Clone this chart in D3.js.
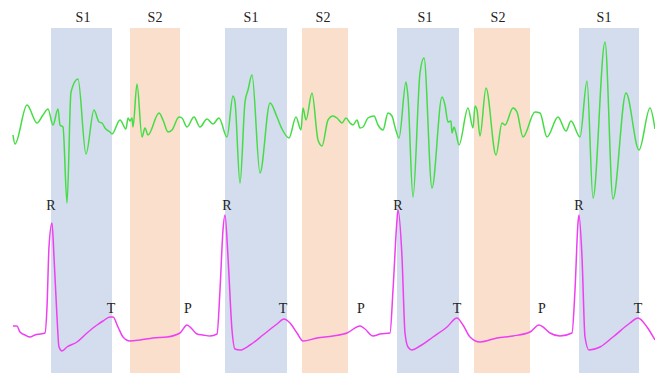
<!DOCTYPE html>
<html>
<head>
<meta charset="utf-8">
<script src="https://cdn.jsdelivr.net/npm/d3@7"></script>
<style>
  html, body { margin: 0; padding: 0; background: #fff; }
  svg { display: block; }
</style>
</head>
<body>
<div id="chart"></div>
<script>
// time axis is in display samples (0..655), amplitudes are relative to each trace's baseline

const pcgTime = [13, 15, 27, 37, 43, 48, 53, 58, 60, 63, 67, 71, 78, 86, 94, 99, 102, 105, 110, 112,
  120, 126, 128, 130, 132, 133, 137, 142, 145, 148, 159, 163, 168, 172, 179, 182, 187, 194, 200, 207,
  213, 219, 227, 233, 235, 240, 245, 248, 252, 260, 270, 277, 282, 289, 296, 301, 303, 306, 312, 318,
  322, 328, 333, 337, 342, 346, 350, 353, 357, 360, 363, 368, 374, 378, 383, 388, 392, 395, 399, 406,
  408, 413, 420, 424, 432, 442, 445, 448, 451, 452, 454, 456, 459, 468, 473, 475, 477, 480, 486, 496,
  502, 505, 513, 517, 523, 535, 540, 547, 558, 566, 571, 580, 587, 593, 605, 613, 626, 639, 650, 655];

const pcgValue = [-10, -19, 20, 2, 10, 16, 0, 16, 0, -2, -78, 33, 46, -29, 15, 3, 2, -3, -7, -9,
  5, -4, 7, 4, 7, -2, 41, -12, -3, -10, 12, 5, -7, -5, 8, 7, -2, 8, -2, 6,
  1, 7, -12, 29, 23, -58, 23, 35, 50, -48, 22, 8, -4, -13, 8, -5, 17, 5, 32, -15,
  -21, 5, 9, 7, 2, 7, 2, 0, 5, -3, -2, 7, 9, 0, -5, 12, 9, -2, -13, 43,
  28, -72, 52, 67, -63, 28, 20, 3, 4, -8, -2, -8, -20, 17, -3, 19, 15, -11, 37, -30,
  2, 0, 17, 13, -12, 13, 12, -12, 8, -6, 4, -12, 44, -73, 83, -74, 32, -25, 17, -4];

const ecgTime = [13, 17, 20, 25, 30, 35, 40, 45, 47, 49, 52, 54, 57, 59, 62, 67, 77, 87, 97, 103,
  110, 113, 118, 123, 130, 140, 153, 167, 180, 187, 192, 197, 203, 210, 217, 220, 223, 225, 228, 232,
  235, 240, 250, 263, 277, 284, 290, 297, 303, 317, 333, 347, 360, 365, 373, 380, 390, 393, 397, 398,
  402, 405, 408, 412, 420, 433, 447, 457, 463, 470, 480, 497, 513, 530, 539, 543, 550, 560, 572, 575,
  578, 579, 582, 585, 589, 600, 613, 630, 638, 647, 655];

const ecgValue = [9, 9, 3, 0, -2, 0, 1, 2, 28, 88, 112, 78, 18, -12, -16, -12, -7, 2, 10, 14,
  18, 18, 8, -2, -6, -5, -3, -2, 2, 10, 6, 1, 0, -1, 1, 45, 105, 120, 78, 5,
  -14, -15, -10, 0, 11, 16, 12, 2, -6, -3, -1, 2, 9, 6, -1, 1, 2, 45, 115, 125,
  78, 2, -12, -15, -11, -2, 8, 17, 10, -2, -7, -3, -1, 3, 10, 8, 2, -1, 2, 45,
  112, 120, 78, -2, -15, -12, -2, 12, 17, 8, -5];

const s1Start = [51, 225, 397, 579];
const s1End = [112, 287, 459, 639];
const s2Start = [130, 302, 474];
const s2End = [180, 348, 530];

const s1LabelAt = [83, 251, 425, 604];
const s2LabelAt = [155, 323, 498];
const rLabelAt = [51, 227, 398, 579];
const tLabelAt = [111, 283, 457, 638];
const pLabelAt = [188, 361, 542];

const width = 655;
const height = 373;

const svg = d3.select('#chart')
  .append('svg')
  .attr('width', width)
  .attr('height', height);

const x = d3.scaleLinear().domain([0, 655]).range([0, width]);
const yPcg = d3.scaleLinear().domain([-100, 100]).range([225, 25]);
const yEcg = d3.scaleLinear().domain([-100, 100]).range([435, 235]);

const bandTop = 28;

// heart sound segments
const bands = s1Start.map((s, i) => ({ start: s, end: s1End[i], fill: '#d3ddee' }))
  .concat(s2Start.map((s, i) => ({ start: s, end: s2End[i], fill: '#fadfcd' })));

svg.append('g')
  .selectAll('rect')
  .data(bands)
  .join('rect')
  .attr('x', d => x(d.start))
  .attr('y', bandTop)
  .attr('width', d => x(d.end) - x(d.start))
  .attr('height', height - bandTop)
  .attr('fill', d => d.fill);

const label = (positions, text, baseline) => {
  svg.append('g')
    .selectAll('text')
    .data(positions)
    .join('text')
    .attr('x', d => x(d))
    .attr('y', baseline)
    .attr('text-anchor', 'middle')
    .attr('font-family', '"Liberation Serif", "Times New Roman", serif')
    .attr('font-size', 14)
    .attr('fill', '#222')
    .text(text);
};

label(s1LabelAt, 'S1', 22);
label(s2LabelAt, 'S2', 22);

const pcgLine = d3.line()
  .x(i => x(pcgTime[i]))
  .y(i => yPcg(pcgValue[i]))
  .curve(d3.curveMonotoneX);

const ecgLine = d3.line()
  .x(i => x(ecgTime[i]))
  .y(i => yEcg(ecgValue[i]))
  .curve(d3.curveMonotoneX);

svg.append('path')
  .attr('d', pcgLine(d3.range(pcgTime.length)))
  .attr('fill', 'none')
  .attr('stroke', '#44dd44')
  .attr('stroke-width', 1.5);

svg.append('path')
  .attr('d', ecgLine(d3.range(ecgTime.length)))
  .attr('fill', 'none')
  .attr('stroke', '#ee3ff0')
  .attr('stroke-width', 1.5);

label(rLabelAt, 'R', 210);
label(tLabelAt, 'T', 313);
label(pLabelAt, 'P', 313);
</script>
</body>
</html>
